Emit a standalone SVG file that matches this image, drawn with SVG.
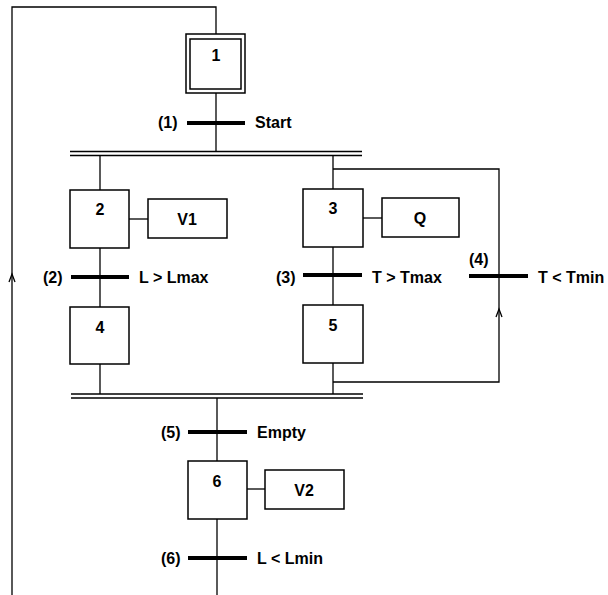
<svg xmlns="http://www.w3.org/2000/svg" width="608" height="595" viewBox="0 0 608 595">
<style>
.box{fill:#fff;stroke:#000;stroke-width:1.5}
.ln{fill:none;stroke:#000;stroke-width:1.3}
.bar{stroke:#000;stroke-width:4}
.dbl{stroke:#000;stroke-width:1.6}
text{font-family:"Liberation Sans",Arial,sans-serif;font-size:16px;font-weight:bold;fill:#000}
.c{text-anchor:middle}
.arr{fill:none;stroke:#000;stroke-width:1.3}
</style>
<rect width="608" height="595" fill="#fff"/>
<g id="connectors">
  <polyline class="ln" points="216,34 216,7 12,7 12,595"/>
  <path class="arr" d="M9,282 L12,274 L15,282"/>
  <line class="ln" x1="216" y1="93" x2="216" y2="152"/>
  <line class="dbl" x1="70" y1="151.5" x2="362" y2="151.5"/>
  <line class="dbl" x1="70" y1="155.5" x2="362" y2="155.5"/>
  <line class="ln" x1="100" y1="155" x2="100" y2="190"/>
  <line class="ln" x1="333" y1="155" x2="333" y2="189"/>
  <polyline class="ln" points="333,169 499,169 499,382 333,382"/>
  <path class="arr" d="M496,317 L499,309 L502,317"/>
  <line class="ln" x1="129" y1="219" x2="148" y2="219"/>
  <line class="ln" x1="363" y1="218" x2="382" y2="218"/>
  <line class="ln" x1="100" y1="248" x2="100" y2="307"/>
  <line class="ln" x1="333" y1="247" x2="333" y2="305"/>
  <line class="ln" x1="100" y1="364" x2="100" y2="394"/>
  <line class="ln" x1="333" y1="363" x2="333" y2="394"/>
  <line class="dbl" x1="71" y1="394" x2="363" y2="394"/>
  <line class="dbl" x1="71" y1="398" x2="363" y2="398"/>
  <line class="ln" x1="217" y1="398" x2="217" y2="461"/>
  <line class="ln" x1="247" y1="489" x2="265" y2="489"/>
  <line class="ln" x1="217" y1="519" x2="217" y2="595"/>
</g>
<g id="t1"><line class="bar" x1="187" y1="123" x2="245" y2="123"/><text x="158" y="128">(1)</text><text x="255" y="128">Start</text></g>
<g id="t2"><line class="bar" x1="71" y1="277" x2="129" y2="277"/><text x="43" y="283">(2)</text><text x="139" y="283">L &gt; Lmax</text></g>
<g id="t3"><line class="bar" x1="303" y1="275" x2="362" y2="275"/><text x="276" y="283">(3)</text><text x="372" y="283">T &gt; Tmax</text></g>
<g id="t4"><line class="bar" x1="469" y1="276" x2="528" y2="276"/><text x="469" y="265">(4)</text><text x="538" y="283">T &lt; Tmin</text></g>
<g id="t5"><line class="bar" x1="188" y1="432" x2="247" y2="432"/><text x="161" y="438">(5)</text><text x="257" y="438">Empty</text></g>
<g id="t6"><line class="bar" x1="188" y1="558" x2="247" y2="558"/><text x="161" y="564">(6)</text><text x="257" y="564">L &lt; Lmin</text></g>
<g id="step1"><rect class="box" x="186" y="34" width="59" height="59"/><rect class="box" x="190" y="39" width="51" height="50"/><text class="c" x="216" y="61">1</text></g>
<g id="step2"><rect class="box" x="70" y="190" width="59" height="58"/><text class="c" x="100" y="215">2</text></g>
<g id="action-v1"><rect class="box" x="148" y="199" width="79" height="39"/><text class="c" x="187" y="225">V1</text></g>
<g id="step3"><rect class="box" x="303" y="189" width="60" height="58"/><text class="c" x="333" y="214">3</text></g>
<g id="action-q"><rect class="box" x="382" y="198" width="77" height="39"/><text class="c" x="420" y="224">Q</text></g>
<g id="step4"><rect class="box" x="70" y="307" width="59" height="57"/><text class="c" x="100" y="333">4</text></g>
<g id="step5"><rect class="box" x="303" y="305" width="60" height="58"/><text class="c" x="333" y="331">5</text></g>
<g id="step6"><rect class="box" x="188" y="461" width="59" height="58"/><text class="c" x="217" y="487">6</text></g>
<g id="action-v2"><rect class="box" x="265" y="470" width="79" height="39"/><text class="c" x="304" y="496">V2</text></g>
</svg>
